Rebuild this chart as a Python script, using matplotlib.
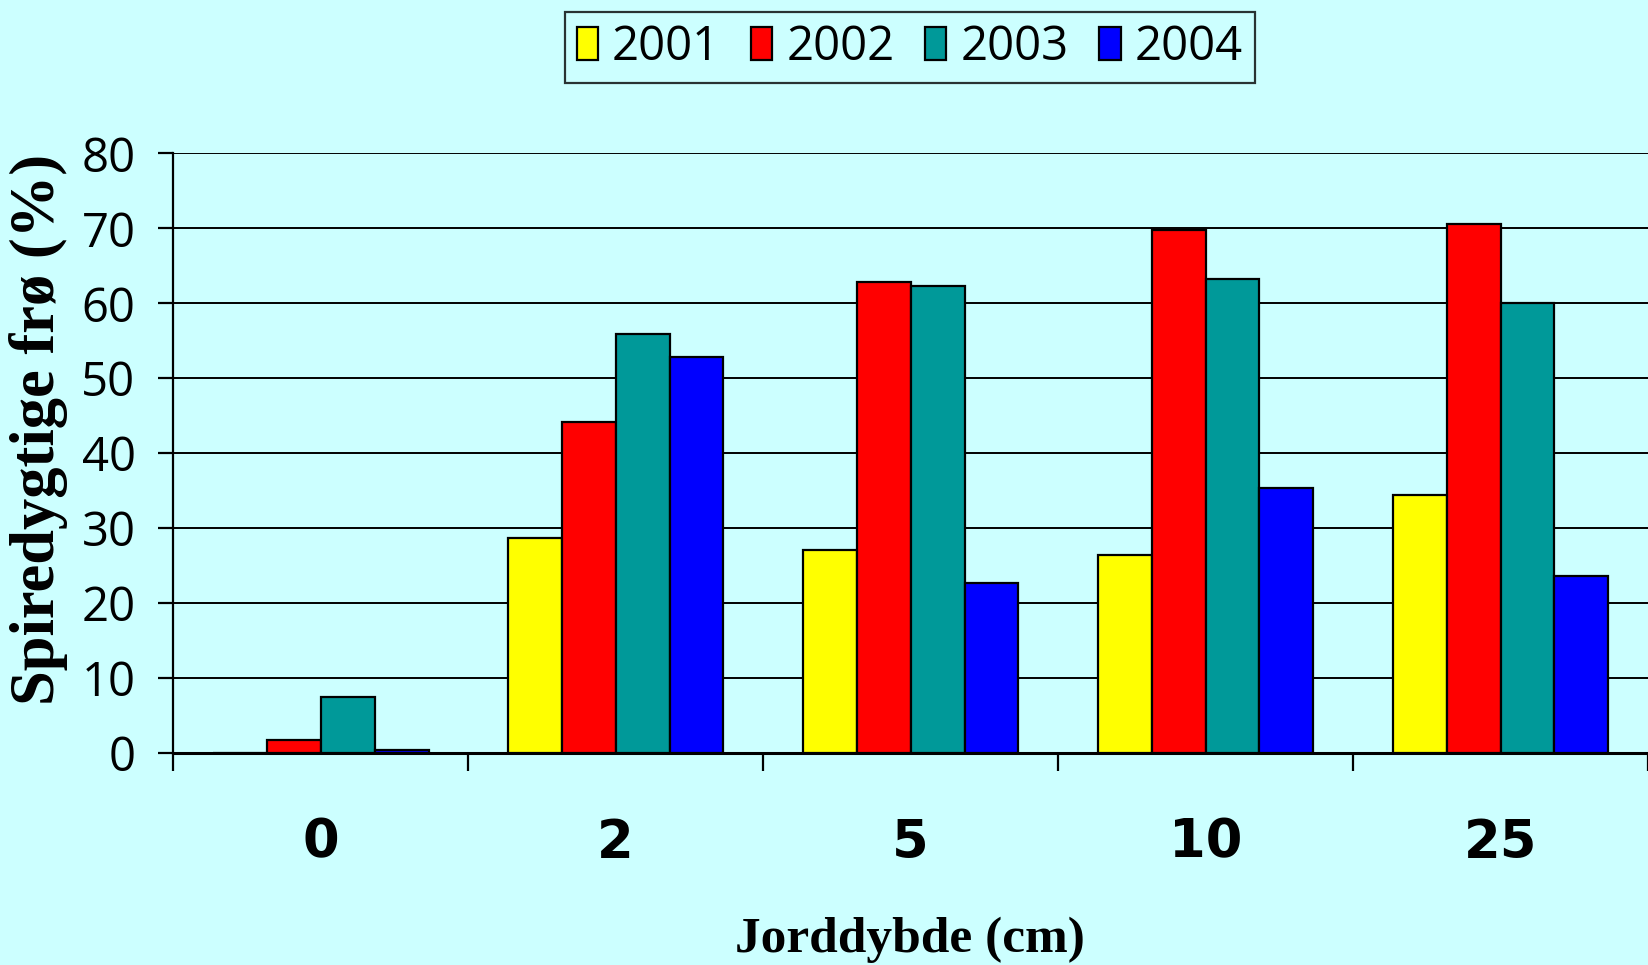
import numpy as np
import matplotlib.pyplot as plt

# data
depths = ['0', '2', '5', '10', '25']
years = ['2001', '2002', '2003', '2004']
v2001 = [0.0, 28.6, 27.1, 26.4, 34.4]
v2002 = [1.7, 44.2, 62.9, 69.8, 70.6]
v2003 = [7.4, 55.9, 62.3, 63.3, 60.1]
v2004 = [0.3, 52.8, 22.6, 35.4, 23.6]
colors = ['#FFFF00', '#FF0000', '#009999', '#0000FF']

bg = '#CCFFFF'
fig = plt.figure(figsize=(16.48, 9.65), dpi=100, facecolor=bg)
ax = fig.add_axes([0.105, 0.22, 0.895, 0.621], facecolor=bg)

x = np.arange(len(depths))
w = 0.183
series = [v2001, v2002, v2003, v2004]
for i, (vals, c, lab) in enumerate(zip(series, colors, years)):
    ax.bar(x + (i - 1.5) * w, vals, w, color=c, edgecolor='black',
           linewidth=1.6, label=lab, zorder=3)

ax.set_xlim(-0.5, len(depths) - 0.5)
ax.set_ylim(0, 80)
ax.set_yticks(range(0, 81, 10))
ax.yaxis.grid(True, color='black', linewidth=1.4, zorder=0)
ax.set_axisbelow(True)

for s in ['top', 'right']:
    ax.spines[s].set_visible(False)
ax.spines['left'].set_linewidth(1.6)
ax.spines['bottom'].set_linewidth(2.2)

# major ticks carry labels, minor ticks mark the category boundaries
ax.set_xticks(x)
ax.set_xticklabels(depths, fontsize=38, fontweight='bold', family='DejaVu Sans')
ax.tick_params(axis='x', which='major', length=0, pad=46)
ax.set_xticks(np.arange(-0.5, len(depths), 1.0), minor=True)
ax.tick_params(axis='x', which='minor', length=13, width=1.6, direction='out')
ax.tick_params(axis='y', length=11, width=1.6, direction='out', labelsize=34, pad=16)
for t in ax.get_yticklabels():
    t.set_family('Open Sans')

ax.set_ylabel('Spiredygtige frø (%)', fontsize=45, fontweight='bold',
              family='Liberation Serif')
ax.yaxis.set_label_coords(-0.071, 0.54)
fig.text(0.552, 0.026, 'Jorddybde (cm)', fontsize=37, fontweight='bold',
         family='Liberation Serif', ha='center', va='center')

leg = fig.legend(loc='center', bbox_to_anchor=(0.552, 0.951), ncol=4,
                 prop={'family': 'Open Sans', 'size': 34}, frameon=True,
                 fancybox=False, edgecolor='black', facecolor=bg,
                 handlelength=0.45, handleheight=0.7, handletextpad=0.3,
                 columnspacing=0.65, borderpad=0.25)
leg.get_frame().set_linewidth(1.6)

fig.savefig('out.png', dpi=100, facecolor=bg)
